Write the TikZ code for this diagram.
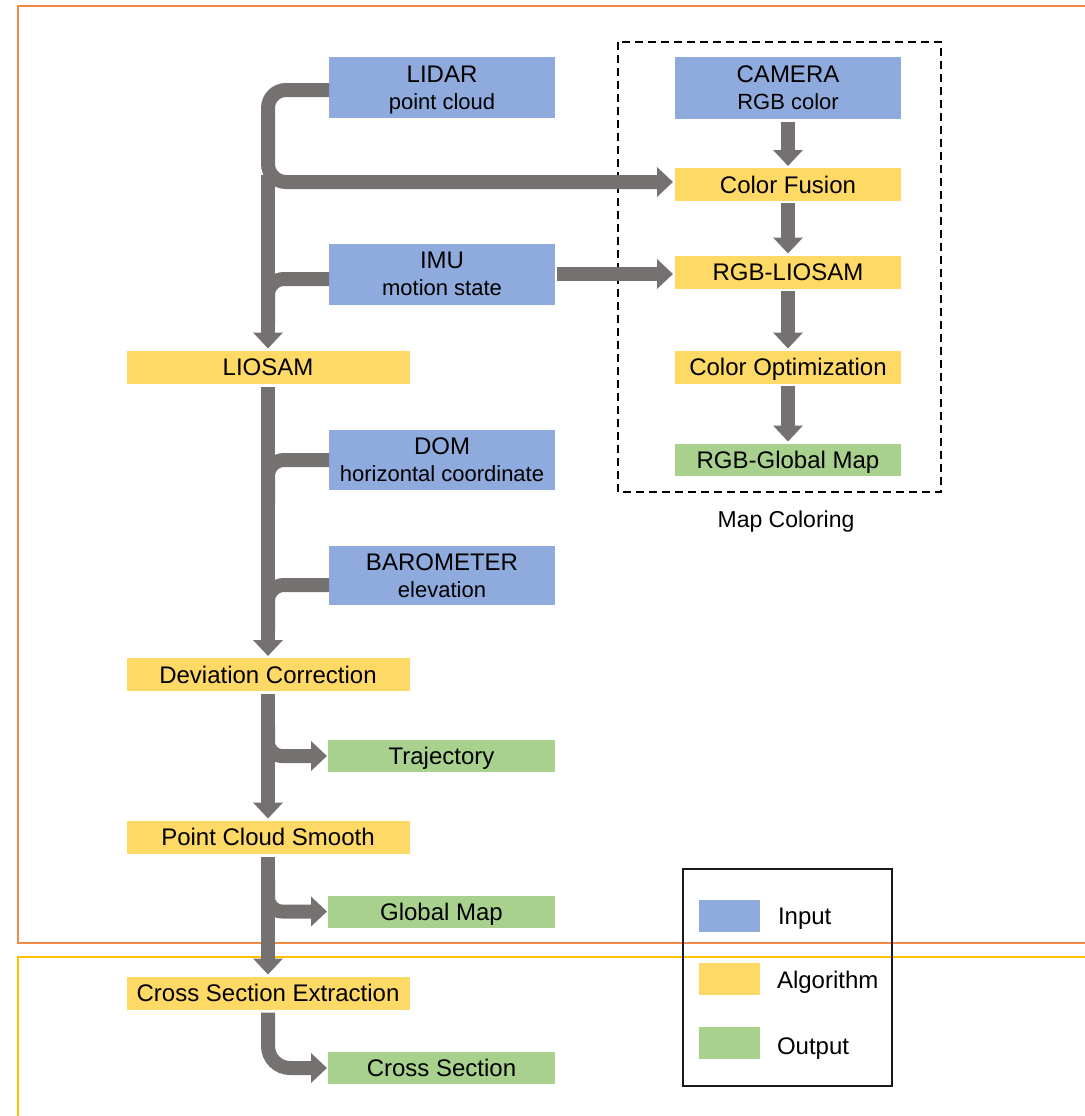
\documentclass[tikz,border=0pt]{standalone}
\usepackage{fontspec}
\setmainfont{Liberation Sans}
\usetikzlibrary{arrows.meta}
\definecolor{inblue}{HTML}{8FAADC}
\definecolor{algyel}{HTML}{FFD966}
\definecolor{outgrn}{HTML}{A9D18E}
\definecolor{arrgrey}{HTML}{767171}
\definecolor{frameor}{HTML}{F08A45}
\definecolor{frameye}{HTML}{FFC000}
\begin{document}
\begin{tikzpicture}[x=1pt,y=-1pt,
  box/.style={draw=none, inner sep=0pt, outer sep=0pt, anchor=center},
  one/.style={box, font=\fontsize{24}{27}\selectfont, text height=17.3pt, text depth=0pt},
  two/.style={box, align=center, font=\fontsize{22}{27}\selectfont},
  inbox/.style={fill=inblue, minimum width=226pt, minimum height=61pt},
  algbox/.style={fill=algyel, minimum width=283pt, minimum height=33pt},
  ralgbox/.style={fill=algyel, minimum width=226pt, minimum height=33pt},
  outbox/.style={fill=outgrn, minimum width=227pt, minimum height=32pt},
  flow/.style={draw=arrgrey, line width=14pt, line cap=butt},
  headtip/.style={-{Triangle[width=29pt,length=16pt]}},
  swatch/.style={box, minimum width=61pt, minimum height=32pt}
]
\useasboundingbox (0,0) rectangle (1084,1116);
\fill[white] (0,0) rectangle (1084,1116);
% frames
\draw[frameor, line width=2.2pt] (1100,6) -- (18,6) -- (18,943) -- (1100,943);
\draw[frameye, line width=2.2pt] (1100,957) -- (18,957) -- (18,1130);
% map coloring group
\draw[black, line width=2.5pt, dash pattern=on 8pt off 5pt] (618,42) rectangle (941,492);
\node[one, font=\fontsize{23}{27}\selectfont] (mapcol) at (786,519) {Map Coloring};
\coordinate (trunk) at (268,0);
% nodes
\node[two, inbox] (lidar) at (442,87.5) {{\fontsize{24}{27}\selectfont LIDAR}\\\smash{point cloud}};
\node[two, inbox] (imu) at (442,274) {{\fontsize{24}{27}\selectfont IMU}\\\smash{motion state}};
\node[two, inbox] (cam) at (788,88) {{\fontsize{24}{27}\selectfont CAMERA}\\\smash{RGB color}};
\node[one, ralgbox] (cf) at (788,184.5) {Color Fusion};
\node[one, ralgbox] (rgbl) at (788,272) {RGB-LIOSAM};
\node[one, ralgbox] (copt) at (788,367) {Color Optimization};
\node[one, outbox, minimum width=226pt] (rgbg) at (788,459.5) {RGB-Global Map};
\node[one, algbox] (liosam) at (268,367) {LIOSAM};
\node[two, inbox, minimum height=60pt] (dom) at (442,460) {{\fontsize{24}{27}\selectfont DOM}\\\smash{horizontal coordinate}};
\node[two, inbox, minimum height=59pt] (baro) at (442,575.5) {{\fontsize{24}{27}\selectfont BAROMETER}\\\smash{elevation}};
\node[one, algbox] (devc) at (268,674.5) {Deviation Correction};
\node[one, outbox] (traj) at (441.5,756) {Trajectory};
\node[one, algbox] (pcs) at (268,837) {Point Cloud Smooth};
\node[one, outbox] (gmap) at (441.5,911.5) {Global Map};
\node[one, algbox] (cse) at (268,993) {Cross Section Extraction};
\node[one, outbox] (cs) at (441.5,1068) {Cross Section};
% connectors upper part
\draw[flow, headtip, rounded corners=18pt] ([yshift=-2.5pt]lidar.west) -- (268,90) -- (268,182) -- ([xshift=-2pt,yshift=2.5pt]cf.west);
\draw[flow, headtip] (268,175) -- ([yshift=2pt]liosam.north);
\draw[flow, rounded corners=16pt] ([yshift=-5pt]imu.west) -- (268,279) -- (268,325);
\draw[flow, headtip] ([xshift=2pt]imu.east) -- ([xshift=-2pt]imu.east -| rgbl.west);
\draw[flow, headtip] ([yshift=-3pt]cam.south) -- ([yshift=2pt]cf.north);
\draw[flow, headtip] ([yshift=-2pt]cf.south) -- ([yshift=2pt]rgbl.north);
\draw[flow, headtip] ([yshift=-2pt]rgbl.south) -- ([yshift=2pt]copt.north);
\draw[flow, headtip] ([yshift=-2pt]copt.south) -- ([yshift=2pt]rgbg.north);
% middle
\draw[flow, headtip] ([yshift=-3pt]liosam.south) -- ([yshift=2pt]devc.north);
\draw[flow, rounded corners=16pt] (dom.west) -- (trunk |- dom.west) -- (268,505);
\draw[flow, rounded corners=16pt] ([yshift=-9.5pt]baro.west) -- (268,585) -- (268,630);
% lower
\draw[flow, headtip] ([yshift=-3pt]devc.south) -- ([yshift=2pt]pcs.north);
\draw[flow, headtip, rounded corners=14pt] (268,725) -- (trunk |- traj.west) -- ([xshift=-1pt]traj.west);
\draw[flow, headtip] ([yshift=-3pt]pcs.south) -- ([yshift=2pt]cse.north);
\draw[flow, headtip, rounded corners=14pt] (268,880) -- (trunk |- gmap.west) -- ([xshift=-1pt]gmap.west);
\draw[flow, headtip, rounded corners=22pt] ([yshift=-3pt]cse.south) -- (trunk |- cs.west) -- ([xshift=-1pt]cs.west);
% legend
\draw[black!90, line width=2pt] (683,869) rectangle (892,1086);
\node[swatch, fill=inblue] (lgin) at (729.5,916) {};
\node[swatch, fill=algyel] (lgalg) at (729.5,979) {};
\node[swatch, fill=outgrn] (lgout) at (729.5,1043) {};
\node[one, anchor=west] (lgintext) at (778,916) {Input};
\node[one, anchor=west] (lgalgtext) at (777,979.5) {Algorithm};
\node[one, anchor=west] (lgouttext) at (777,1046) {Output};
\end{tikzpicture}
\end{document}
